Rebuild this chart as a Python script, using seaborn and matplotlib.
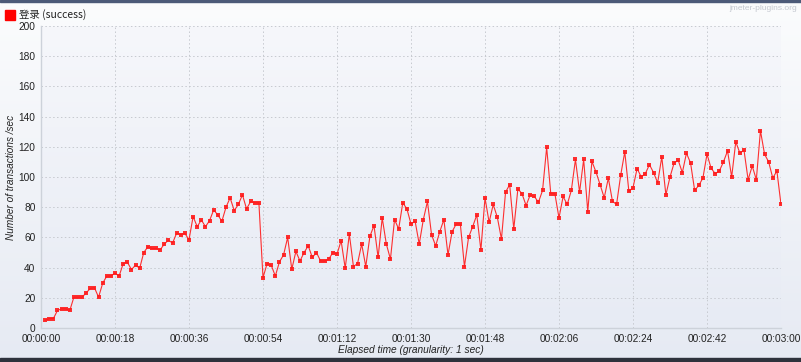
import numpy as np
import pandas as pd
import matplotlib
matplotlib.use("Agg")
import matplotlib.pyplot as plt
import seaborn as sns
from matplotlib.colors import LinearSegmentedColormap

# ---- data (seconds elapsed, transactions/sec) ----
seconds = list(range(1, 181))
tps = [
    5.1, 6.2, 6.2, 11.6, 12.7, 12.7, 11.6, 20.4, 20.4, 20.4,
    23.3, 26.2, 26.7, 20.4, 29.6, 34.4, 34.4, 36.4, 34.4, 42.7,
    43.6, 38.7, 41.6, 39.6, 50.0, 53.8, 52.7, 52.7, 51.8, 55.6,
    58.2, 56.2, 62.9, 61.8, 62.7, 58.4, 73.8, 67.1, 71.6, 67.1,
    71.1, 78.2, 74.9, 70.7, 80.0, 86.2, 77.8, 81.8, 88.2, 78.9,
    83.8, 82.9, 82.9, 33.3, 42.7, 41.6, 34.4, 43.8, 48.4, 60.0,
    38.9, 50.7, 44.4, 50.0, 54.4, 46.7, 50.0, 44.4, 44.4, 45.6,
    50.0, 48.9, 57.8, 39.6, 62.2, 40.7, 42.7, 55.6, 40.7, 60.7,
    67.8, 46.7, 72.9, 55.6, 45.6, 71.8, 65.6, 82.9, 78.9, 68.9,
    70.7, 55.6, 71.8, 83.8, 61.8, 54.4, 63.8, 71.8, 48.4, 63.8,
    68.9, 68.9, 40.7, 60.0, 67.1, 74.9, 51.6, 86.2, 70.0, 81.8,
    73.3, 58.9, 90.0, 94.9, 65.6, 92.2, 88.9, 81.1, 88.2, 87.1,
    83.3, 91.1, 119.6, 88.9, 88.9, 72.9, 87.1, 81.8, 91.1, 111.6,
    90.0, 111.6, 77.1, 110.4, 103.3, 94.9, 86.2, 99.3, 84.0, 81.8,
    101.1, 116.7, 90.4, 92.9, 105.6, 100.0, 102.2, 108.2, 102.9, 96.2,
    113.3, 88.2, 100.0, 109.3, 111.1, 102.9, 115.8, 109.3, 91.1, 94.4,
    99.3, 115.1, 105.8, 102.2, 104.0, 110.0, 117.3, 100.0, 123.3, 115.8,
    117.8, 98.2, 107.3, 98.2, 130.7, 115.1, 110.0, 99.3, 104.0, 81.8,
]
x_ticks = [0, 18, 36, 54, 72, 90, 108, 126, 144, 162, 180]
x_tick_labels = ["00:00:00", "00:00:18", "00:00:36", "00:00:54", "00:01:12",
                 "00:01:30", "00:01:48", "00:02:06", "00:02:24", "00:02:42", "00:03:00"]
y_ticks = [0, 20, 40, 60, 80, 100, 120, 140, 160, 180, 200]
series_label = "登录 (success)"

df = pd.DataFrame({"t": seconds, "tps": tps})

sns.set_theme(style="white")
plt.rcParams["font.family"] = ["Liberation Sans", "Noto Sans CJK SC", "DejaVu Sans"]

W, H = 801, 362
fig = plt.figure(figsize=(W / 100, H / 100), dpi=100)

# figure background gradient
bg = fig.add_axes([0, 0, 1, 1], zorder=-10)
grad = np.linspace(0, 1, 256).reshape(-1, 1)
cm_fig = LinearSegmentedColormap.from_list("g", ["#fbfcfd", "#e6eaf3"])
bg.imshow(grad, aspect="auto", cmap=cm_fig, extent=[0, 1, 0, 1], origin="upper")
bg.set_xlim(0, 1); bg.set_ylim(0, 1)
bg.axis("off")
bg.add_patch(plt.Rectangle((0, 1 - 2 / H), 1, 2 / H, color="#4c5a78", transform=bg.transAxes))
bg.add_patch(plt.Rectangle((0, 0), 1, 4 / H, color="#2e323c", transform=bg.transAxes))

left, right, top, bottom = 41, 781, 26, 328
ax = fig.add_axes([left / W, 1 - bottom / H, (right - left) / W, (bottom - top) / H])
ax.patch.set_alpha(0)
cm_ax = LinearSegmentedColormap.from_list("g2", ["#f6f7fb", "#e7ebf4"])
ax.imshow(grad, aspect="auto", cmap=cm_ax, extent=[0, 180, 0, 200], origin="upper", zorder=0)

sns.lineplot(data=df, x="t", y="tps", ax=ax, color="#ff1a1a", linewidth=0.8,
             marker="s", markersize=2.5, markeredgewidth=0, zorder=3, alpha=0.9)

ax.set_xlim(0, 180)
ax.set_ylim(0, 200)
ax.set_xticks(x_ticks)
ax.set_xticklabels(x_tick_labels, fontsize=7.3, color="#222222")
ax.set_yticks(y_ticks)
ax.set_yticklabels([str(v) for v in y_ticks], fontsize=7.3, color="#222222")
ax.tick_params(axis="x", length=3, width=0.6, color="#bfc4cc", pad=1)
ax.tick_params(axis="y", length=3, width=0.6, color="#bfc4cc", pad=1)
ax.grid(True, linestyle=(0, (1.5, 2.5)), color="#c6c9cf", linewidth=0.7)
for s in ["top", "right"]:
    ax.spines[s].set_visible(False)
for s in ["left", "bottom"]:
    ax.spines[s].set_color("#cdd2da")
    ax.spines[s].set_linewidth(1.0)

ax.set_xlabel("Elapsed time (granularity: 1 sec)", fontsize=7.3, style="italic",
              color="#222222", labelpad=1)
ax.set_ylabel("Number of transactions /sec", fontsize=7.2, style="italic",
              color="#222222", labelpad=2)

# legend-like header
bg.add_patch(plt.Rectangle((5 / W, 1 - 20 / H), 10 / W, 10 / H, color="#ff0000",
                           transform=bg.transAxes))
fig.text(19 / W, 1 - 15 / H, series_label, fontsize=7.5, color="#222222",
         va="center", ha="left", family=["Noto Sans CJK SC", "DejaVu Sans"])
fig.text(797 / W, 1 - 8 / H, "jmeter-plugins.org", fontsize=6, color="#c4c8d0",
         va="center", ha="right")

fig.savefig("out.png", dpi=100)
